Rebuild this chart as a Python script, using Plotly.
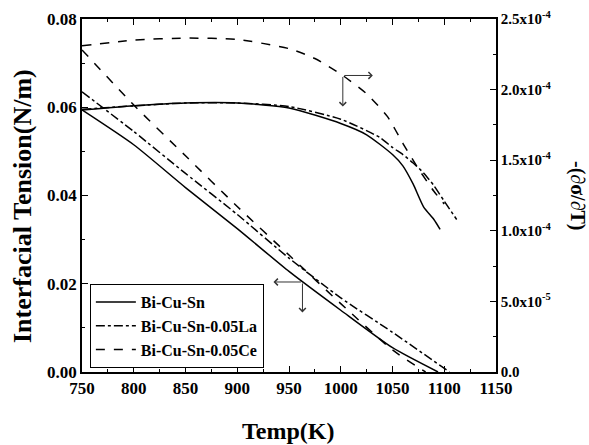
import plotly.graph_objects as go

# ---------------- data ----------------
series_names = ["Bi-Cu-Sn", "Bi-Cu-Sn-0.05La", "Bi-Cu-Sn-0.05Ce"]

# interfacial tension (left axis, N/m)
T_sig_cusn = [750, 800, 850, 900, 950, 1000, 1050, 1094]
sig_cusn = [0.0594, 0.0515, 0.0418, 0.0325, 0.0228, 0.0140, 0.0055, 0.0]
T_sig_la = [750, 800, 850, 900, 950, 1000, 1050, 1105]
sig_la = [0.0635, 0.0545, 0.0450, 0.0357, 0.0258, 0.0168, 0.0090, 0.0]
T_sig_ce = [750, 800, 850, 900, 950, 1000, 1050, 1082]
sig_ce = [0.0730, 0.0605, 0.0490, 0.0375, 0.0265, 0.0155, 0.0050, 0.0]

# -(dsigma/dT) (right axis)
T_der_cusn = [750, 800, 850, 900, 950, 1000, 1025, 1050, 1060, 1070, 1080, 1090, 1096]
der_cusn = [1.855e-4, 1.885e-4, 1.905e-4, 1.905e-4, 1.870e-4, 1.760e-4, 1.680e-4,
            1.540e-4, 1.460e-4, 1.330e-4, 1.170e-4, 1.080e-4, 1.010e-4]
T_der_la = [750, 800, 850, 900, 950, 1000, 1038, 1050, 1060, 1070, 1080, 1090, 1100, 1112]
der_la = [1.860e-4, 1.885e-4, 1.905e-4, 1.905e-4, 1.880e-4, 1.790e-4, 1.660e-4,
          1.590e-4, 1.540e-4, 1.480e-4, 1.410e-4, 1.320e-4, 1.210e-4, 1.080e-4]
T_der_ce = [750, 800, 850, 900, 950, 975, 1000, 1025, 1045, 1060, 1075, 1090, 1100]
der_ce = [2.310e-4, 2.350e-4, 2.365e-4, 2.355e-4, 2.290e-4, 2.220e-4, 2.110e-4,
          1.970e-4, 1.810e-4, 1.620e-4, 1.440e-4, 1.280e-4, 1.190e-4]

x_ticks = [750, 800, 850, 900, 950, 1000, 1050, 1100, 1150]
y_ticks = [0.00, 0.02, 0.04, 0.06, 0.08]
y2_ticks = [0.0, 5e-5, 1e-4, 1.5e-4, 2e-4, 2.5e-4]
y2_ticktext = ["0.0", "5.0x10<sup>-5</sup>", "1.0x10<sup>-4</sup>", "1.5x10<sup>-4</sup>",
               "2.0x10<sup>-4</sup>", "2.5x10<sup>-4</sup>"]

# arrows (indicator annotations)
arrow_right_corner = (1002, 2.10e-4)
arrow_right_heads = [(1031, 2.10e-4), (1002, 1.88e-4)]
arrow_left_corner = (963, 0.0204)
arrow_left_heads = [(935, 0.0204), (963, 0.0135)]

FONT = "Liberation Serif, Times New Roman, serif"
dashes = ["solid", "dashdot", "dash"]

fig = go.Figure()
sig_data = [(T_sig_cusn, sig_cusn), (T_sig_la, sig_la), (T_sig_ce, sig_ce)]
der_data = [(T_der_cusn, der_cusn), (T_der_la, der_la), (T_der_ce, der_ce)]
for i, name in enumerate(series_names):
    T, s = sig_data[i]
    fig.add_trace(go.Scatter(x=T, y=s, mode="lines", name=name, legendgroup=name,
                             line=dict(color="black", width=1.5, dash=dashes[i], shape="spline", smoothing=0.6)))
for i, name in enumerate(series_names):
    T, d = der_data[i]
    fig.add_trace(go.Scatter(x=T, y=d, mode="lines", name=name, legendgroup=name, showlegend=False,
                             yaxis="y2",
                             line=dict(color="black", width=1.5, dash=dashes[i], shape="spline", smoothing=0.6)))

tickfont = dict(family=FONT, size=17, color="black", weight="bold")
axis_common = dict(showline=True, linecolor="black", linewidth=1.5, ticks="inside", ticklen=6,
                   tickwidth=1.2, tickcolor="black", showgrid=False, zeroline=False, automargin=False)

fig.update_layout(
    width=589, height=445,
    margin=dict(l=82, r=93, t=19, b=73),
    paper_bgcolor="white", plot_bgcolor="white",
    xaxis=dict(range=[750, 1150], tickmode="array", tickvals=x_ticks, mirror="ticks",
               minor=dict(ticks="inside", ticklen=3, tickmode="linear", tick0=750, dtick=25, tickcolor="black"),
               tickfont=tickfont, **axis_common),
    yaxis=dict(range=[0, 0.08], tickmode="array", tickvals=y_ticks, tickformat=".2f",
               minor=dict(ticks="inside", ticklen=3, tickmode="linear", tick0=0, dtick=0.01, tickcolor="black"),
               tickfont=tickfont, **axis_common),
    yaxis2=dict(range=[0, 2.5e-4], overlaying="y", side="right", tickmode="array",
                tickvals=y2_ticks, ticktext=y2_ticktext,
                minor=dict(ticks="inside", ticklen=3, tickmode="linear", tick0=0, dtick=2.5e-5, tickcolor="black"),
                tickfont=dict(family=FONT, size=15, color="black", weight="bold"), **axis_common),
    legend=dict(x=0.019, y=0.249, xanchor="left", yanchor="top", bordercolor="black", borderwidth=1,
                bgcolor="white", font=dict(family=FONT, size=16, color="black", weight="bold"),
                tracegroupgap=0, itemwidth=40, entrywidth=175, entrywidthmode="pixels"),
    showlegend=True,
)

plot_l, plot_r, plot_t, plot_b = 82, 496, 19, 372
def px_to_paper(px, py):
    return (px - plot_l) / (plot_r - plot_l), (plot_b - py) / (plot_b - plot_t)

tx, ty = px_to_paper(288, 431)
lx, ly = px_to_paper(22, 206)
rx, ry = px_to_paper(578, 196)
annotations = [
    dict(text="<b>Temp(K)</b>", x=tx, y=ty, xref="paper", yref="paper", xanchor="center", yanchor="middle",
         showarrow=False, font=dict(family=FONT, size=24, color="black")),
    dict(text="<b>Interfacial Tension(N/m)</b>", x=lx, y=ly, xref="paper", yref="paper",
         xanchor="center", yanchor="middle",
         showarrow=False, textangle=-90, font=dict(family=FONT, size=26, color="black")),
    dict(text="<b>-(∂σ/∂T)</b>", x=rx, y=ry, xref="paper", yref="paper", showarrow=False, textangle=90,
         xanchor="center", yanchor="middle",
         font=dict(family=FONT, size=20, color="black")),
]

for head in arrow_right_heads:
    annotations.append(dict(x=head[0], y=head[1], ax=arrow_right_corner[0], ay=arrow_right_corner[1],
                            xref="x", yref="y2", axref="x", ayref="y2", text="", showarrow=True,
                            arrowhead=4, arrowsize=1.3, arrowwidth=1, arrowcolor="#333"))
for head in arrow_left_heads:
    annotations.append(dict(x=head[0], y=head[1], ax=arrow_left_corner[0], ay=arrow_left_corner[1],
                            xref="x", yref="y", axref="x", ayref="y", text="", showarrow=True,
                            arrowhead=4, arrowsize=1.3, arrowwidth=1, arrowcolor="#333"))
fig.update_layout(annotations=annotations)

fig.write_html("out.html", config={"displayModeBar": False},
               post_script="document.body.style.margin='0px';document.body.style.padding='0px';")
